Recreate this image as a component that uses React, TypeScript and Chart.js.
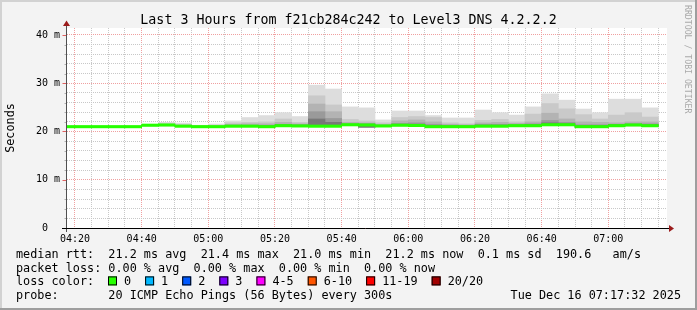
import React, { useEffect, useRef } from "react";
import { Chart, registerables } from "chart.js";

Chart.register(...registerables);

const W = 697;
const H = 310;

// 5-minute slot start times
const slotStarts = [
  "04:15", "04:20", "04:25", "04:30", "04:35", "04:40", "04:45", "04:50", "04:55",
  "05:00", "05:05", "05:10", "05:15", "05:20", "05:25", "05:30", "05:35", "05:40",
  "05:45", "05:50", "05:55", "06:00", "06:05", "06:10", "06:15", "06:20", "06:25",
  "06:30", "06:35", "06:40", "06:45", "06:50", "06:55", "07:00", "07:05", "07:10",
];

// median RTT (ms)
const medianRtt = [
  21.0, 21.0, 21.0, 21.0, 21.0, 21.3, 21.35, 21.1, 21.0,
  21.0, 21.1, 21.1, 21.0, 21.2, 21.15, 21.1, 21.1, 21.4,
  21.35, 21.15, 21.3, 21.25, 21.0, 21.0, 21.0, 21.1, 21.1,
  21.2, 21.2, 21.4, 21.4, 21.0, 21.0, 21.2, 21.35, 21.2,
];

// smoke lower bound (ms)
const smokeMin = [
  20.9, 20.9, 20.9, 20.9, 20.9, 21.2, 21.2, 21.0, 20.9,
  20.9, 21.0, 21.0, 20.9, 21.1, 21.0, 21.0, 21.0, 21.3,
  20.9, 21.0, 21.2, 21.1, 20.9, 20.9, 20.9, 21.0, 21.0,
  21.1, 21.1, 21.3, 21.3, 20.9, 20.9, 21.1, 21.2, 21.1,
];

// smoke upper bounds, outermost (max) to innermost (ms)
const smokeL1 = [
  21.1, 21.1, 21.1, 21.1, 21.1, 21.4, 21.9, 21.75, 21.3,
  21.55, 22.2, 22.9, 23.3, 23.9, 23.1, 29.6, 28.8, 25.1,
  24.9, 22.4, 24.25, 24.25, 23.3, 22.8, 22.8, 24.45, 23.9,
  23.4, 25.1, 27.8, 26.5, 24.65, 23.9, 26.7, 26.7, 24.9,
];
const smokeL2 = [
  21.0, 21.0, 21.0, 21.0, 21.0, 21.35, 21.6, 21.5, 21.2,
  21.3, 21.8, 21.9, 22.0, 22.6, 21.9, 27.4, 25.5, 22.5,
  22.2, 21.8, 22.9, 23.1, 22.9, 21.8, 21.6, 22.3, 22.5,
  22.0, 23.6, 25.8, 24.7, 23.5, 22.6, 23.4, 23.9, 23.0,
];
const smokeL3 = [
  21.0, 21.0, 21.0, 21.0, 21.0, 21.3, 21.4, 21.3, 21.1,
  21.15, 21.5, 21.6, 21.6, 21.9, 21.6, 25.7, 24.1, 21.9,
  21.8, 21.5, 22.2, 22.4, 22.0, 21.5, 21.4, 21.8, 21.9,
  21.7, 22.0, 23.8, 22.6, 22.0, 21.9, 21.8, 22.0, 22.0,
];
const smokeL4 = [
  21.0, 21.0, 21.0, 21.0, 21.0, 21.3, 21.35, 21.2, 21.05,
  21.05, 21.3, 21.3, 21.3, 21.5, 21.4, 24.1, 22.7, 21.6,
  21.6, 21.3, 21.7, 21.8, 21.5, 21.3, 21.2, 21.5, 21.5,
  21.4, 21.6, 22.3, 21.9, 21.4, 21.4, 21.5, 21.6, 21.6,
];
const smokeL5 = [
  21.0, 21.0, 21.0, 21.0, 21.0, 21.3, 21.3, 21.15, 21.0,
  21.0, 21.2, 21.2, 21.15, 21.35, 21.3, 22.6, 21.9, 21.5,
  21.5, 21.2, 21.4, 21.5, 21.2, 21.1, 21.1, 21.3, 21.3,
  21.3, 21.4, 21.8, 21.6, 21.2, 21.2, 21.4, 21.5, 21.4,
];

const smokeColors = ["#dddddd", "#c9c9c9", "#b3b3b3", "#9a9a9a", "#787878"];
const medianColor = "#26ff00";

const viewStart = "04:17:36";
const viewEnd = "07:17:36";
const slotMinutes = 5;

const xTickLabels = ["04:20", "04:40", "05:00", "05:20", "05:40", "06:00", "06:20", "06:40", "07:00"];
const yTickValues = [0, 2, 4, 6, 8, 10, 12, 14, 16, 18, 20, 22, 24, 26, 28, 30, 32, 34, 36, 38, 40];
const yTickLabels: Record<number, string> = { 0: "0  ", 10: "10 m", 20: "20 m", 30: "30 m", 40: "40 m" };
const yMax = 41.45;

const title = "Last 3 Hours from f21cb284c242 to Level3 DNS 4.2.2.2";
const yTitle = "Seconds";
const watermark = "RRDTOOL / TOBI OETIKER";
const statsLine = "median rtt:  21.2 ms avg  21.4 ms max  21.0 ms min  21.2 ms now  0.1 ms sd  190.6   am/s";
const lossLine = "packet loss: 0.00 % avg  0.00 % max  0.00 % min  0.00 % now";
const lossHeader = "loss color:";
const lossLabels = ["0", "1", "2", "3", "4-5", "6-10", "11-19", "20/20"];
const lossColors = ["#26ff00", "#00b8ff", "#0059ff", "#7e00ff", "#ff00ff", "#ff5500", "#ff0000", "#a10000"];
const probeLine = "probe:       20 ICMP Echo Pings (56 Bytes) every 300s";
const stampLine = "Tue Dec 16 07:17:32 2025";

const toMin = (s: string) => {
  const p = s.split(":").map(Number);
  return p[0] * 60 + p[1] + (p[2] || 0) / 60;
};

const MONO = "'DejaVu Sans Mono', monospace";

export default function App() {
  const ref = useRef<HTMLCanvasElement | null>(null);

  useEffect(() => {
    const canvas = ref.current;
    if (!canvas) return;

    const centers = slotStarts.map((s) => toMin(s) + slotMinutes / 2);
    const band = (tops: number[], lows: number[], color: string, order: number) => ({
      type: "bar" as const,
      data: centers.map((x, i) => ({ x, y: [lows[i], tops[i]] })),
      backgroundColor: color,
      borderWidth: 0,
      grouped: false,
      barPercentage: 1,
      categoryPercentage: 1,
      order,
    });

    const half = 0.25;
    const medLo = medianRtt.map((m) => m - half);
    const medHi = medianRtt.map((m) => m + half);

    const decor = {
      id: "decor",
      beforeDraw(chart: any) {
        const { ctx, chartArea: a } = chart;
        ctx.save();
        ctx.fillStyle = "#f3f3f3";
        ctx.fillRect(0, 0, W, H);
        ctx.fillStyle = "#d2d2d2";
        ctx.fillRect(0, 0, W, 2);
        ctx.fillRect(0, 0, 2, H);
        ctx.fillStyle = "#9e9e9e";
        ctx.fillRect(W - 2, 0, 2, H);
        ctx.fillRect(0, H - 2, W, 2);
        ctx.fillStyle = "#ffffff";
        ctx.fillRect(a.left, a.top, a.right - a.left, a.bottom - a.top);
        ctx.restore();
      },
      afterDraw(chart: any) {
        const { ctx, chartArea: a } = chart;
        const ys = chart.scales.y;
        ctx.save();
        // y ticks
        for (const v of yTickValues) {
          const py = Math.round(ys.getPixelForValue(v)) + 0.5;
          ctx.strokeStyle = v % 10 === 0 ? "#e06060" : "#b0b0b0";
          ctx.lineWidth = 1;
          ctx.beginPath();
          ctx.moveTo(v % 10 === 0 ? a.left - 4.5 : a.left - 2.5, py);
          ctx.lineTo(a.left, py);
          ctx.stroke();
        }
        // y axis line
        const ax = a.left - 0.5;
        ctx.strokeStyle = "#505050";
        ctx.beginPath();
        ctx.moveTo(ax, a.bottom + 4);
        ctx.lineTo(ax, a.top - 2);
        ctx.stroke();
        // x axis line
        const ay = a.bottom + 0.5;
        ctx.strokeStyle = "#000000";
        ctx.beginPath();
        ctx.moveTo(a.left - 5, ay);
        ctx.lineTo(a.right + 2, ay);
        ctx.stroke();
        // arrows
        ctx.fillStyle = "#9b1c1c";
        ctx.beginPath();
        ctx.moveTo(ax, a.top - 7.5);
        ctx.lineTo(ax - 3.5, a.top - 2);
        ctx.lineTo(ax + 3.5, a.top - 2);
        ctx.closePath();
        ctx.fill();
        ctx.beginPath();
        ctx.moveTo(a.right + 7, ay);
        ctx.lineTo(a.right + 2, ay - 3.5);
        ctx.lineTo(a.right + 2, ay + 3.5);
        ctx.closePath();
        ctx.fill();

        // title
        ctx.fillStyle = "#000000";
        ctx.font = `13.3px ${MONO}`;
        ctx.textAlign = "center";
        ctx.textBaseline = "alphabetic";
        ctx.fillText(title, W / 2, 23.5);

        // y title
        ctx.font = `11.8px ${MONO}`;
        ctx.save();
        ctx.translate(14, (a.top + a.bottom) / 2);
        ctx.rotate(-Math.PI / 2);
        ctx.textAlign = "center";
        ctx.fillText(yTitle, 0, 0);
        ctx.restore();

        // watermark
        ctx.save();
        ctx.fillStyle = "#a9a9a9";
        ctx.font = `8.2px ${MONO}`;
        ctx.translate(685, 5);
        ctx.rotate(Math.PI / 2);
        ctx.textAlign = "left";
        ctx.fillText(watermark, 0, 0);
        ctx.restore();

        // legend
        ctx.fillStyle = "#000000";
        ctx.font = `11.8px ${MONO}`;
        ctx.textAlign = "left";
        const lx = 16;
        const b1 = 258;
        const lh = 13.7;
        ctx.fillText(statsLine, lx, b1);
        ctx.fillText(lossLine, lx, b1 + lh);
        ctx.fillText(lossHeader, lx, b1 + 2 * lh);
        ctx.fillText(probeLine, lx, b1 + 3 * lh);
        ctx.textAlign = "right";
        ctx.fillText(stampLine, 681, b1 + 3 * lh);
        ctx.textAlign = "left";
        let cx = 108;
        const by = b1 + 2 * lh;
        for (let i = 0; i < lossLabels.length; i++) {
          ctx.fillStyle = lossColors[i];
          ctx.fillRect(cx, by - 9, 9, 9);
          ctx.strokeStyle = "#000000";
          ctx.lineWidth = 1;
          ctx.strokeRect(cx + 0.5, by - 8.5, 8, 8);
          ctx.fillStyle = "#000000";
          const tx = cx + 16;
          ctx.fillText(lossLabels[i], tx, by);
          cx = tx + ctx.measureText(lossLabels[i]).width + 14;
        }
        ctx.restore();
      },
    };

    const chart = new Chart(canvas, {
      type: "bar",
      data: {
        datasets: [
          band(medHi, medLo, medianColor, 0),
          band(smokeL5, smokeMin, smokeColors[4], 1),
          band(smokeL4, smokeMin, smokeColors[3], 2),
          band(smokeL3, smokeMin, smokeColors[2], 3),
          band(smokeL2, smokeMin, smokeColors[1], 4),
          band(smokeL1, smokeMin, smokeColors[0], 5),
        ] as any,
      },
      options: {
        responsive: false,
        animation: false,
        devicePixelRatio: 1,
        events: [],
        layout: { padding: { left: 0, right: 30, top: 28, bottom: 0 } },
        plugins: {
          legend: { display: false },
          tooltip: { enabled: false },
          title: { display: false },
        },
        scales: {
          x: {
            type: "linear",
            min: toMin(viewStart),
            max: toMin(viewEnd),
            offset: false,
            afterBuildTicks: (scale: any) => {
              const t: any[] = [];
              for (let v = Math.ceil(scale.min / slotMinutes) * slotMinutes; v <= scale.max; v += slotMinutes) t.push({ value: v });
              scale.ticks = t;
            },
            afterFit: (scale: any) => {
              scale.height = H - 228;
            },
            grid: {
              offset: false,
              drawTicks: false,
              lineWidth: 1,
              color: (c: any) =>
                xTickLabels.some((l) => toMin(l) === c.tick?.value) ? "#f0a0a0" : "#c8c8c8",
            },
            border: { display: false, dash: [1, 1] },
            ticks: {
              autoSkip: false,
              maxRotation: 0,
              minRotation: 0,
              padding: 5,
              color: "#000000",
              font: { family: MONO, size: 10 },
              callback: (v: any) => {
                const l = xTickLabels.find((s) => toMin(s) === Number(v));
                return l || "";
              },
            },
          },
          y: {
            type: "linear",
            min: 0,
            max: yMax,
            afterBuildTicks: (scale: any) => {
              scale.ticks = yTickValues.map((v) => ({ value: v }));
            },
            afterFit: (scale: any) => {
              scale.width = 67;
            },
            grid: {
              drawTicks: false,
              lineWidth: 1,
              color: (c: any) => (c.tick && c.tick.value % 10 === 0 ? "#f0a0a0" : "#c8c8c8"),
            },
            border: { display: false, dash: [1, 1] },
            ticks: {
              autoSkip: false,
              padding: 7,
              color: "#000000",
              font: { family: MONO, size: 10 },
              callback: (v: any) => yTickLabels[Number(v)] ?? "",
            },
          },
        },
      } as any,
      plugins: [decor],
    });

    return () => chart.destroy();
  }, []);

  return (
    <div style={{ position: "fixed", left: 0, top: 0, width: W, height: H }}>
      <canvas ref={ref} width={W} height={H} style={{ display: "block", width: W, height: H }} />
    </div>
  );
}
